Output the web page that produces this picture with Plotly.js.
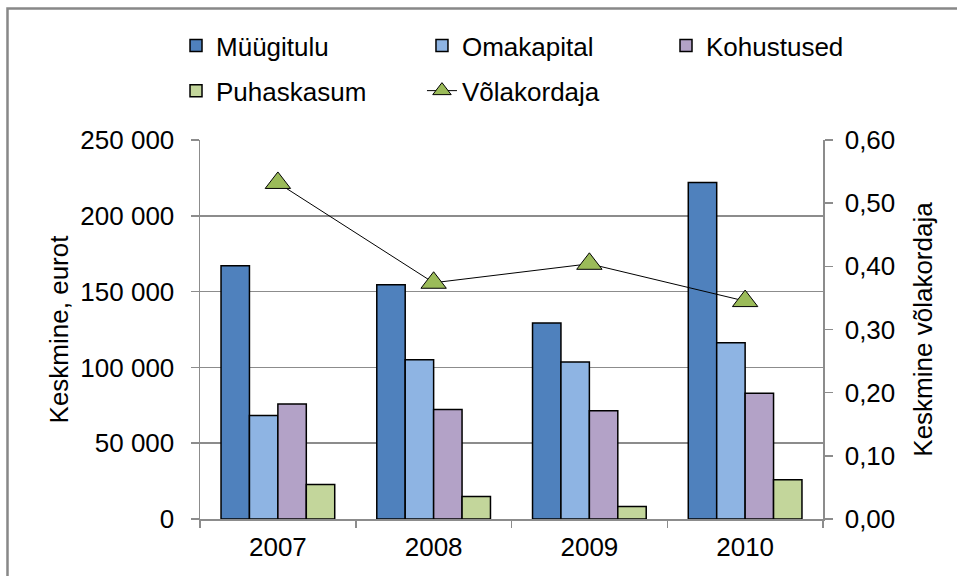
<!DOCTYPE html>
<html>
<head>
<meta charset="utf-8">
<script src="https://cdn.plot.ly/plotly-3.0.1.min.js"></script>
<style>
  body { margin: 0; background: #fff; }
  #chart { width: 957px; height: 576px; }
</style>
</head>
<body>
<div id="chart"></div>
<script>
const years = ['2007', '2008', '2009', '2010'];
const myygitulu = [167100, 154500, 129300, 222000];
const omakapital = [68300, 105100, 103600, 116300];
const kohustused = [75900, 72300, 71400, 82900];
const puhaskasum = [22800, 14900, 8300, 25900];
const volakordaja = [0.532, 0.374, 0.404, 0.345];

const font = 'Liberation Sans, Arial, sans-serif';
const gridColor = '#8c8c8c';
const fs = 26;

function barTrace(name, values, color, legend) {
    return {
        type: 'bar',
        name: name,
        x: years,
        y: values,
        legend: legend,
        marker: { color: color, line: { color: '#000', width: 1.5 } },
        hoverinfo: 'y'
    };
}

const data = [
    barTrace('Müügitulu', myygitulu, '#4f81bd', 'legend'),
    barTrace('Omakapital', omakapital, '#8eb4e3', 'legend2'),
    barTrace('Kohustused', kohustused, '#b3a2c7', 'legend3'),
    barTrace('Puhaskasum', puhaskasum, '#c3d69b', 'legend4'),
    {
        type: 'scatter',
        mode: 'lines+markers',
        name: 'Võlakordaja',
        x: years,
        y: volakordaja,
        yaxis: 'y2',
        legend: 'legend5',
        line: { color: '#000', width: 1 },
        marker: { symbol: 'triangle-up', size: 22, color: '#9bbb59', line: { color: '#000', width: 1 } }
    }
];

// one small legend per entry so the 3 + 2 grid can be placed like the original
function legendAt(x, y) {
    return {
        x: x,
        y: y,
        xanchor: 'left',
        yanchor: 'top',
        font: { family: font, size: fs, color: '#000' },
        bgcolor: 'rgba(0,0,0,0)'
    };
}

const row1 = 1.311, row2 = 1.192;

const layout = {
    width: 957,
    height: 576,
    margin: { l: 200, r: 134, t: 140, b: 57 },
    paper_bgcolor: '#fff',
    plot_bgcolor: '#fff',
    separators: ', ',
    font: { family: font, size: fs, color: '#000' },
    barmode: 'group',
    bargap: 0.27,
    bargroupgap: 0,
    legend: legendAt(-0.0385, row1),
    legend2: legendAt(0.3563, row1),
    legend3: legendAt(0.748, row1),
    legend4: legendAt(-0.0385, row2),
    legend5: legendAt(0.3563, row2),
    xaxis: {
        type: 'category',
        tickson: 'boundaries',
        ticks: 'outside',
        ticklen: 7,
        tickcolor: gridColor,
        tickwidth: 1.5,
        ticklabelstandoff: 4,
        showline: true,
        linecolor: gridColor,
        linewidth: 1.5,
        showgrid: false,
        tickfont: { family: font, size: fs }
    },
    yaxis: {
        range: [0, 250000],
        dtick: 50000,
        tickformat: ',d',
        ticks: 'outside',
        ticklen: 8,
        tickcolor: gridColor,
        tickwidth: 1.5,
        ticklabelstandoff: 11,
        showline: true,
        linecolor: gridColor,
        linewidth: 1.5,
        gridcolor: gridColor,
        gridwidth: 1.5,
        zeroline: false,
        title: { text: 'Keskmine, eurot', font: { family: font, size: fs }, standoff: 4 }
    },
    yaxis2: {
        overlaying: 'y',
        side: 'right',
        range: [0, 0.6],
        dtick: 0.1,
        tickformat: '.2f',
        ticks: 'outside',
        ticklen: 8,
        tickcolor: gridColor,
        tickwidth: 1.5,
        ticklabelstandoff: 7,
        showline: true,
        linecolor: gridColor,
        linewidth: 1.5,
        showgrid: false,
        zeroline: false,
        title: { text: 'Keskmine võlakordaja', font: { family: font, size: fs }, standoff: 19 }
    },
    shapes: [{
        type: 'rect',
        xref: 'paper',
        yref: 'paper',
        x0: -0.309,
        x1: 1.3,
        y0: -0.2,
        y1: 1.3467,
        line: { color: '#888888', width: 2.5 },
        layer: 'below'
    }],
    showlegend: true
};

Plotly.newPlot('chart', data, layout, { displayModeBar: false, staticPlot: true });
</script>
</body>
</html>
